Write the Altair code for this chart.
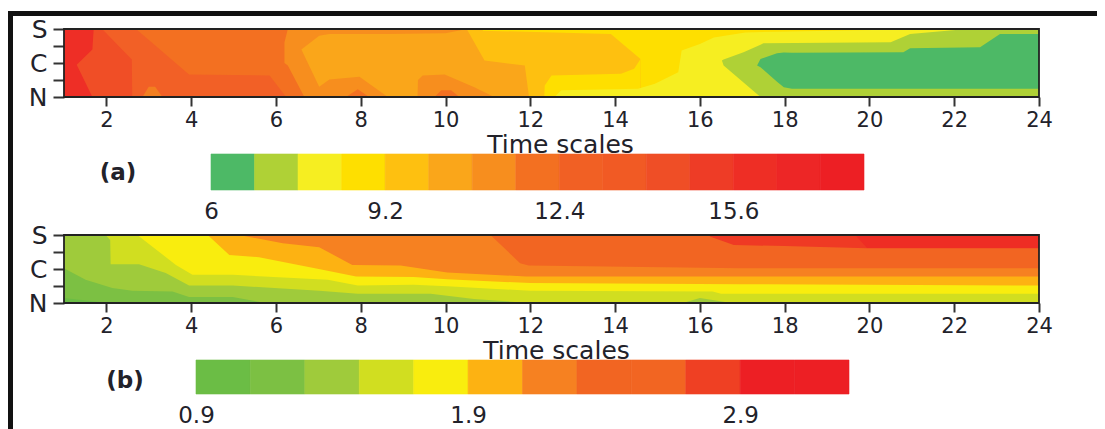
import altair as alt
import pandas as pd

FONT = "DejaVu Sans"
INK = "#22222a"

time_ticks = list(range(2, 25, 2))
zone_ticks = [0, 1, 2, 3, 4]
zone_label_expr = "datum.value==4?'S':datum.value==2?'C':datum.value==0?'N':''"

# ---- panel (a): colour regions as (time scale, lower zone, upper zone), back to front
a_base = ("#ee2e26", [(1, 0, 4), (24, 0, 4)])
a_r1 = ("#f04e26", [(1.3, 1.9, 1.9), (1.67, 0, 2.8), (1.7, 0, 4), (24, 0, 4)])
a_r2 = ("#f26026", [(1.9, 4, 4), (2.6, 2.2, 4), (2.61, 0, 4), (24, 0, 4)])
a_r3 = ("#f37021", [(2.7, 4, 4), (3.95, 1.33, 4), (5.85, 1.27, 4), (6.24, 0, 4), (24, 0, 4)])
a_r3b = ("#f37f20", [(2.85, 0, 0), (3.0, 0, 0.6), (3.15, 0, 0.6), (3.32, 0, 0)])
a_r4 = ("#f78e1e", [(6.2, 2.0, 3.2), (6.28, 1.85, 4), (6.67, 0, 4), (24, 0, 4)])
a_r5 = ("#faa61a", [(6.6, 2.8, 2.8), (7.02, 0.6, 3.6), (7.26, 1.03, 3.7), (7.97, 1.19, 3.7),
                    (8.64, 0, 3.7), (10, 0, 3.75), (10.5, 0, 4), (24, 0, 4)])
a_r5b = ("#f78e1e", [(9.34, 0, 0), (9.35, 0, 1), (9.46, 0, 1.27), (9.98, 0, 1.33), (10.68, 0, 0.58), (11.1, 0, 0.06)])
a_r5c = ("#f37021", [(9.74, 0, 0), (9.9, 0, 0.39), (10.13, 0, 0.39), (10.33, 0, 0)])
a_r5d = ("#f37021", [(7.65, 0, 0), (7.93, 0, 0.45), (8.2, 0, 0)])
a_r6 = ("#fec010", [(10.5, 4, 4), (10.92, 2.15, 4), (11.87, 1.85, 4), (11.97, 0, 4), (24, 0, 4)])
a_r7 = ("#fedf00", [(10.88, 3.9, 4), (13.9, 3.7, 4), (14.6, 2.24, 4), (14.61, 0, 4), (24, 0, 4)])
a_r7b = ("#fedf00", [(12.33, 0, 0), (12.34, 0, 0.68), (12.5, 0, 1.27), (14.14, 0, 1.37), (14.45, 0, 1.66), (14.6, 0, 2.24)])
a_r8 = ("#f6ee21", [(12.57, 0, 0), (12.73, 0, 0.39), (14.54, 0, 0.49), (14.94, 0, 0.78), (15.49, 0, 1.46),
                    (15.57, 0, 2.73), (16.0, 0, 3.12), (16.33, 0, 3.5), (17.07, 0, 3.8), (20.4, 0, 3.96),
                    (20.7, 0, 4), (24, 0, 4)])
a_r9 = ("#afd136", [(16.52, 2.15, 2.15), (16.56, 1.85, 2.2), (17.03, 0.85, 2.63), (17.43, 0, 3.08),
                    (17.5, 0, 3.16), (20.5, 0, 3.22), (20.96, 0, 3.7), (22.3, 0, 4), (24, 0, 4)])
a_r10 = ("#4db966", [(17.35, 1.85, 1.85), (17.43, 1.75, 2.24), (17.82, 0.9, 2.58), (17.98, 0.58, 2.62),
                     (18.17, 0.49, 2.6), (20.8, 0.49, 2.63), (20.96, 0.49, 2.87), (22.61, 0.49, 2.93),
                     (23.08, 0.49, 3.7), (24, 0.49, 3.7)])
a_bands = [a_base, a_r1, a_r2, a_r3, a_r3b, a_r4, a_r5, a_r5b, a_r5c, a_r5d, a_r6, a_r7, a_r7b, a_r8, a_r9, a_r10]

# ---- panel (b): upper edge of every colour region (time scale, zone), hot to cool
b_base = ("#ef3a24", [(1, 0, 4), (24, 0, 4)])
b_r0 = ("#ee2d24", [(19.7, 3.9, 4), (19.95, 3.22, 4), (24, 3.22, 4)])
b_e1 = ("#f26522", [(1, 4), (16.2, 4), (16.25, 3.9), (16.8, 3.41), (18, 3.35), (19.94, 3.22), (24, 3.22)])
b_e2 = ("#f68121", [(1, 4), (11.06, 4), (11.76, 2.34), (11.96, 2.2), (16.95, 2.05), (24, 2.05)])
b_e3 = ("#fdb212", [(1, 4), (5.13, 4), (6.16, 3.51), (7.02, 3.28), (7.8, 2.24), (8.94, 2.2), (10.04, 1.8),
                    (11.9, 1.56), (24, 1.56)])
b_e4 = ("#f9ed0e", [(1, 4), (4.39, 4), (4.9, 2.83), (5.6, 2.69), (7.1, 1.95), (7.89, 1.56), (9.25, 1.53),
                    (10.04, 1.4), (12, 1.17), (16.94, 1.11), (24, 1.03)])
b_e5 = ("#d1de20", [(1, 4), (2.73, 4), (3.64, 2.24), (4.03, 1.66), (4.98, 1.66), (7.22, 1.37), (7.93, 1.03),
                    (9.25, 1.07), (10.04, 0.98), (12, 0.72), (16.3, 0.68), (16.5, 0.55), (24, 0.55)])
b_e6 = ("#9fcb3b", [(1, 4), (1.98, 4), (2.09, 3.7), (2.1, 2.28), (2.77, 2.28), (3.4, 1.76), (3.95, 1.03),
                    (4.98, 1.03), (7.02, 0.72), (7.93, 0.55), (9.65, 0.55), (10.67, 0.23), (12, 0),
                    (15.6, 0), (16, 0.3), (16.75, 0), (24, 0)])
b_e7 = ("#7cc043", [(1, 2.05), (1.51, 1.37), (2.14, 0.88), (2.61, 0.72), (3.56, 0.68), (3.95, 0.35),
                    (4.98, 0.35), (5.76, 0)])
b_e8 = ("#6bbd45", [(1, 0.29), (1.83, 0.06), (1.9, 0)])
b_edges = [b_e1, b_e2, b_e3, b_e4, b_e5, b_e6, b_e7, b_e8]

# ---- colour keys
key_a_edges = [6 + 0.8 * i for i in range(16)]
key_a_colors = ["#4db966", "#afd136", "#f6ee21", "#fedf00", "#fec010", "#faa61a", "#f78e1e", "#f37021",
                "#f16024", "#f15a24", "#ef4e26", "#ee3c26", "#ee2e25", "#ed2626", "#ed1f24"]
key_a_ticks = [6, 9.2, 12.4, 15.6]

key_b_edges = [0.9 + 0.2 * i for i in range(13)]
key_b_colors = ["#6bbd45", "#7cc043", "#9fcb3b", "#d1de20", "#f9ed0e", "#fdb212", "#f68121", "#f26522",
                "#f26522", "#ef4023", "#ed1f24", "#ed1f24"]
key_b_ticks = [0.9, 1.9, 2.9]

W = 975
H = 68
X_SCALE = alt.Scale(domain=[1, 24], nice=False, zero=False)
Y_SCALE = alt.Scale(domain=[0, 4], nice=False, zero=False)


def axes(title_x):
    x_axis = alt.Axis(values=time_ticks, title="Time scales", grid=False, domain=False, tickSize=9,
                      tickWidth=2, tickColor="#333333", labelFont=FONT, labelFontSize=21, labelColor=INK,
                      labelPadding=3, titleFont=FONT, titleFontSize=25, titleFontWeight="normal",
                      titleColor=INK, titlePadding=2, titleX=title_x, labelFlush=False, labelOverlap=False)
    y_axis = alt.Axis(values=zone_ticks, labelExpr=zone_label_expr, title=None, grid=False, domain=False,
                      tickSize=11, tickWidth=2, tickColor="#333333", labelFont=FONT, labelFontSize=25,
                      labelColor=INK, labelPadding=6, labelOverlap=False)
    return x_axis, y_axis


def region(color, rows, title_x):
    x_axis, y_axis = axes(title_x)
    df = pd.DataFrame(rows, columns=["t", "lo", "hi"])
    return alt.Chart(df).mark_area(color=color, interpolate="linear", opacity=1).encode(
        x=alt.X("t:Q", scale=X_SCALE, axis=x_axis),
        y=alt.Y("lo:Q", scale=Y_SCALE, axis=y_axis),
        y2="hi:Q",
    )


def frame(title_x):
    x_axis, y_axis = axes(title_x)
    return alt.Chart(pd.DataFrame({"a": [1], "b": [24], "c": [0], "d": [4]})).mark_rect(
        filled=False, fillOpacity=0, stroke="#222222", strokeWidth=1.8
    ).encode(
        x=alt.X("a:Q", scale=X_SCALE, axis=x_axis),
        x2="b:Q",
        y=alt.Y("c:Q", scale=Y_SCALE, axis=y_axis),
        y2="d:Q",
    )


def key(edges, colors, ticks, top, bottom, x0, x1, tag, tag_x, tag_y):
    df = pd.DataFrame({"lo": edges[:-1], "hi": edges[1:], "c": colors})
    scale = alt.Scale(domain=[edges[0], edges[-1]], range=[x0, x1], nice=False, zero=False)
    bars = alt.Chart(df).mark_rect(strokeWidth=0.6).encode(
        x=alt.X("lo:Q", scale=scale, axis=alt.Axis(
            values=ticks, format=".1~f", title=None, grid=False, domain=False, ticks=False,
            labelFont=FONT, labelFontSize=23, labelColor=INK, labelPadding=10, labelFlush=False)),
        x2="hi:Q",
        y=alt.value(top),
        y2=alt.value(bottom),
        color=alt.Color("c:N", scale=None, legend=None),
        stroke=alt.Color("c:N", scale=None, legend=None),
    )
    label = alt.Chart(pd.DataFrame({"s": [tag]})).mark_text(
        font=FONT, fontSize=23, fontWeight="bold", color=INK, align="center", baseline="middle"
    ).encode(text="s:N", x=alt.value(tag_x), y=alt.value(tag_y))
    return alt.layer(bars, label).properties(width=W, height=bottom)


# black sheet border, running to the edges of the picture
border_top = alt.Chart(pd.DataFrame({"a": [0]})).mark_rect(color="#111111").encode(
    x=alt.value(-56), x2=alt.value(1033), y=alt.value(-18), y2=alt.value(-13))
border_left = alt.Chart(pd.DataFrame({"a": [0]})).mark_rect(color="#111111").encode(
    x=alt.value(-56), x2=alt.value(-51), y=alt.value(-18), y2=alt.value(400))

panel_a = alt.layer(
    *[region(c, rows, 496) for c, rows in a_bands],
    frame(496),
    border_top,
    border_left,
).properties(width=W, height=H)

panel_b = alt.layer(
    region(*b_base, 492),
    region(*b_r0, 492),
    *[region(c, [(t, 0, y) for t, y in rows], 492) for c, rows in b_edges],
    frame(492),
).properties(width=W, height=H)

key_a = key(key_a_edges, key_a_colors, key_a_ticks, 12, 48, 147, 800, "(a)", 54, 31)
key_b = key(key_b_edges, key_b_colors, key_b_ticks, 12, 46, 132, 785, "(b)", 61, 33)

chart = alt.vconcat(panel_a, key_a, panel_b, key_b, spacing=45, bounds="flush").properties(
    padding={"left": 0, "right": 0, "top": 3, "bottom": 0},
    background="white",
).configure_view(stroke=None)

chart.save("out.html", embed_options={"renderer": "svg", "actions": False})
